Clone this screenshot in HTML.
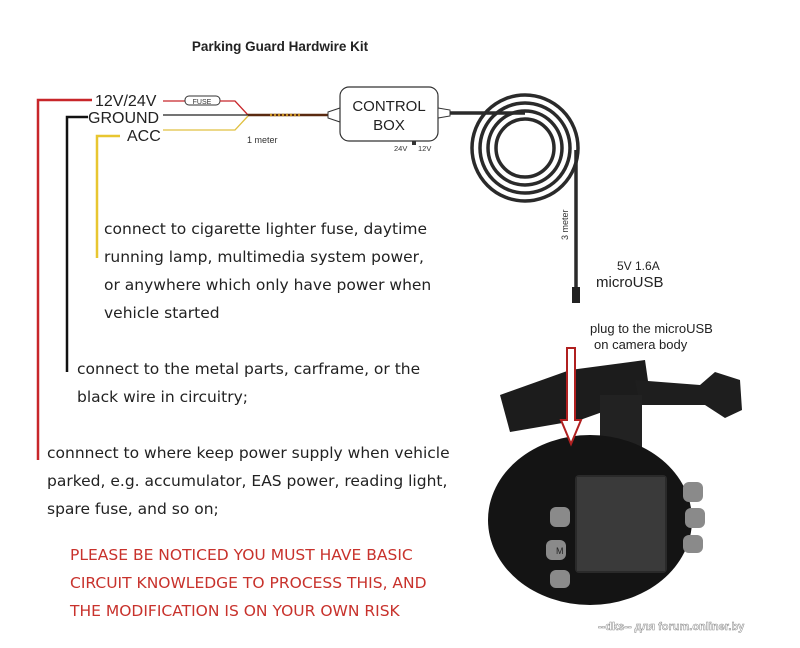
<!DOCTYPE html>
<html><head><meta charset="utf-8"><style>
html,body{margin:0;padding:0;background:#fff}
body{width:800px;height:648px;position:relative;overflow:hidden;font-family:"Liberation Sans","DejaVu Sans",sans-serif}
.t{position:absolute;color:#222;font-family:"DejaVu Sans","Liberation Sans",sans-serif;font-size:15.5px;line-height:28px;white-space:nowrap}
.r{color:#c8322c;font-size:15.5px;line-height:28px}
</style></head><body>
<svg width="800" height="648" style="position:absolute;left:0;top:0">
<text x="280" y="51" font-size="13.5" font-weight="bold" text-anchor="middle" fill="#222" font-family="Liberation Sans">Parking Guard Hardwire Kit</text>
<!-- wires -->
<polyline points="38,460 38,100 92,100" fill="none" stroke="#c8262a" stroke-width="2.5"/>
<polyline points="67,372 67,117 88,117" fill="none" stroke="#111" stroke-width="2.5"/>
<polyline points="97,258 97,136 120,136" fill="none" stroke="#e8c630" stroke-width="2.5"/>
<text x="95" y="106" font-size="16" fill="#222">12V/24V</text>
<text x="88" y="123" font-size="16" fill="#222">GROUND</text>
<text x="127" y="141" font-size="16" fill="#222">ACC</text>
<line x1="163" y1="101" x2="185" y2="101" stroke="#c8262a" stroke-width="1.3"/>
<rect x="185" y="96" width="35" height="9" rx="4" fill="#fff" stroke="#333" stroke-width="1"/>
<text x="202" y="104" font-size="7" text-anchor="middle" fill="#333">FUSE</text>
<polyline points="220,101 235,101 248,115" fill="none" stroke="#c8262a" stroke-width="1.3"/>
<line x1="163" y1="115" x2="248" y2="115" stroke="#222" stroke-width="1.3"/>
<polyline points="163,130 235,130 248,116" fill="none" stroke="#e0c040" stroke-width="1.3"/>
<line x1="248" y1="115" x2="328" y2="115" stroke="#5a2a10" stroke-width="2.5"/>
<line x1="270" y1="115" x2="300" y2="115" stroke="#c79020" stroke-width="2.5" stroke-dasharray="2,2"/>
<text x="247" y="143" font-size="9" fill="#333">1 meter</text>
<path d="M328,112 l12,-4 v14 l-12,-4z" fill="#fff" stroke="#333"/>
<rect x="340" y="87" width="98" height="54" rx="9" fill="#fff" stroke="#333" stroke-width="1.2"/>
<text x="389" y="111" font-size="15" text-anchor="middle" fill="#222">CONTROL</text>
<text x="389" y="130" font-size="15" text-anchor="middle" fill="#222">BOX</text>
<text x="394" y="151" font-size="7.5" fill="#333">24V</text><text x="418" y="151" font-size="7.5" fill="#333">12V</text>
<rect x="412" y="141" width="4" height="4" fill="#333"/>
<path d="M438,108 l12,2 v6 l-12,2z" fill="#fff" stroke="#333"/>
<line x1="450" y1="113" x2="525" y2="113" stroke="#2a2a2a" stroke-width="3.5"/>
<g fill="none" stroke="#2a2a2a" stroke-width="3.5">
<circle cx="525" cy="148" r="53"/><circle cx="525" cy="148" r="45"/><circle cx="525" cy="148" r="37"/><circle cx="525" cy="148" r="29"/>
</g>
<line x1="576" y1="150" x2="576" y2="290" stroke="#2a2a2a" stroke-width="3.5"/>
<rect x="572" y="287" width="8" height="16" fill="#222"/>
<text x="0" y="0" font-size="9" fill="#333" transform="translate(568,240) rotate(-90)">3 meter</text>
<text x="617" y="270" font-size="12" fill="#222">5V 1.6A</text>
<text x="596" y="287" font-size="15" fill="#222">microUSB</text>
<!-- camera -->
<g>
<path d="M500,395 L570,370 L645,360 L650,395 L580,420 L510,432 Z" fill="#1c1c1c"/>
<path d="M635,380 L700,385 L715,372 L740,380 L742,410 L725,418 L705,405 L640,405 Z" fill="#1e1e1e"/>
<rect x="600" y="395" width="42" height="60" fill="#222"/>
<ellipse cx="590" cy="520" rx="102" ry="85" fill="#141414"/>
<rect x="575" y="475" width="92" height="98" rx="4" fill="#2a2a2a"/>
<rect x="577" y="477" width="88" height="94" fill="#3a3a3a"/>
<g fill="#8a8a8a">
<rect x="550" y="507" width="20" height="20" rx="6"/><rect x="546" y="540" width="20" height="20" rx="6"/><rect x="550" y="570" width="20" height="18" rx="6"/>
<rect x="683" y="482" width="20" height="20" rx="6"/><rect x="685" y="508" width="20" height="20" rx="6"/><rect x="683" y="535" width="20" height="18" rx="6"/>
</g>
<text x="556" y="554" font-size="9" fill="#222">M</text>
</g>
<path d="M567,348 h8 v72 h6 l-10,24 l-10,-24 h6 z" fill="#fff" stroke="#b02020" stroke-width="2"/>
<text x="590" y="333" font-size="13" fill="#222">plug to the microUSB</text>
<text x="594" y="349" font-size="13" fill="#222">on camera body</text>
<text x="598" y="630" font-size="11" font-weight="bold" fill="#fff" stroke="#888" stroke-width="0.5">--dks-- для forum.onliner.by</text>
</svg>
<div class="t" style="left:104px;top:215px">connect to cigarette lighter fuse, daytime<br>running lamp, multimedia system power,<br>or anywhere which only have power when<br>vehicle started</div>
<div class="t" style="left:77px;top:355px">connect to the metal parts, carframe, or the<br>black wire in circuitry;</div>
<div class="t" style="left:47px;top:439px">connnect to where keep power supply when vehicle<br>parked, e.g. accumulator, EAS power, reading light,<br>spare fuse, and so on;</div>
<div class="t r" style="left:70px;top:541px">PLEASE BE NOTICED YOU MUST HAVE BASIC<br>CIRCUIT KNOWLEDGE TO PROCESS THIS, AND<br>THE MODIFICATION IS ON YOUR OWN RISK</div>
</body></html>
